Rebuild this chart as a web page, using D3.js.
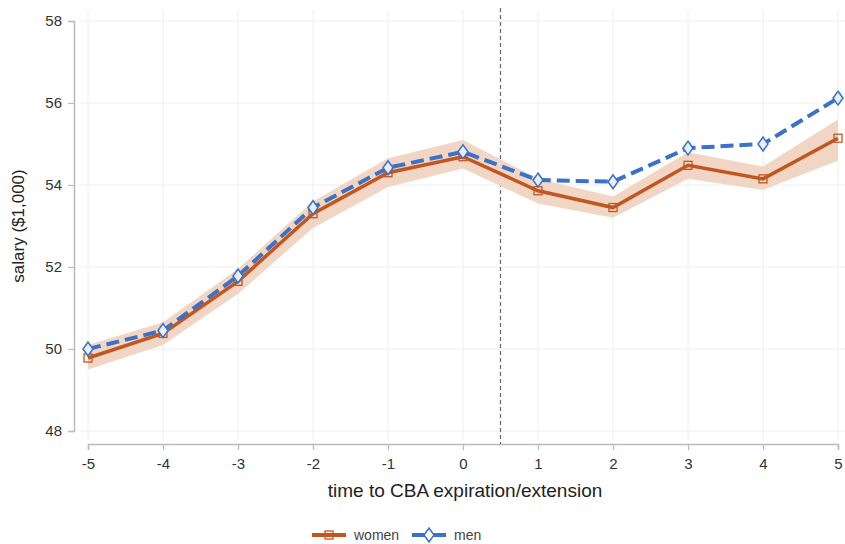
<!DOCTYPE html>
<html>
<head>
<meta charset="utf-8">
<script src="https://cdn.jsdelivr.net/npm/d3@7"></script>
<style>
  body { margin: 0; background: #fff; }
  svg { font-family: "Liberation Sans", Arial, sans-serif; }
</style>
</head>
<body>
<svg id="chart" width="845" height="544"></svg>
<script>
// datos
let years = [-5, -4, -3, -2, -1, 0, 1, 2, 3, 4, 5];
let women = [49.78, 50.38, 51.65, 53.3, 54.3, 54.69, 53.86, 53.45, 54.48, 54.15, 55.14];
let womenLo = [49.5, 50.1, 51.35, 52.95, 53.95, 54.4, 53.55, 53.2, 54.15, 53.88, 54.6];
let womenHi = [50.1, 50.65, 51.95, 53.6, 54.65, 55.1, 54.15, 53.72, 54.8, 54.45, 55.6];
let men = [50.0, 50.45, 51.78, 53.45, 54.42, 54.81, 54.12, 54.08, 54.9, 55.0, 56.12];
let yTicks = [48, 50, 52, 54, 56, 58];

let womenColor = '#c3561f';
let bandColor = '#f1d6c5';
let menColor = '#3b71c6';

let svg = d3.select('#chart');

let x = d3.scaleLinear().domain([-5, 5]).range([88, 838]);
let y = d3.scaleLinear().domain([48, 58]).range([431, 21]);

// rejilla
svg.append('g')
    .selectAll('line')
    .data(years)
    .enter()
    .append('line')
    .attr('x1', d => x(d)).attr('x2', d => x(d))
    .attr('y1', 10).attr('y2', 440)
    .attr('stroke', '#eeeeee').attr('stroke-width', 1);

svg.append('g')
    .selectAll('line')
    .data(yTicks)
    .enter()
    .append('line')
    .attr('x1', 80).attr('x2', 845)
    .attr('y1', d => y(d)).attr('y2', d => y(d))
    .attr('stroke', '#eeeeee').attr('stroke-width', 1);

// ejes
let fmt = d => String(d);
let yAxis = svg.append('g')
    .attr('transform', 'translate(74,0)')
    .call(d3.axisLeft(y).tickValues(yTicks).tickFormat(fmt).tickSize(6).tickPadding(6));
let xAxis = svg.append('g')
    .attr('transform', 'translate(0,444)')
    .call(d3.axisBottom(x).tickValues(years).tickFormat(fmt).tickSize(6).tickPadding(8));

[yAxis, xAxis].forEach(function(ax) {
    ax.select('.domain').attr('stroke', '#bbbbbb').attr('stroke-width', 1.5);
    ax.selectAll('.tick line').attr('stroke', '#bbbbbb').attr('stroke-width', 1.2);
    ax.selectAll('.tick text')
        .attr('font-family', '"Liberation Sans", Arial, sans-serif')
        .attr('font-size', 15)
        .attr('fill', '#333');
});

// línea vertical punteada
svg.append('line')
    .attr('x1', x(0.5)).attr('x2', x(0.5))
    .attr('y1', 8).attr('y2', 444)
    .attr('stroke', '#666').attr('stroke-width', 1.2)
    .attr('stroke-dasharray', '4,3');

// banda de confianza
let area = d3.area()
    .x((d, i) => x(years[i]))
    .y0((d, i) => y(womenLo[i]))
    .y1((d, i) => y(womenHi[i]));

svg.append('path')
    .datum(women)
    .attr('d', area)
    .attr('fill', bandColor);

let line = d3.line()
    .x((d, i) => x(years[i]))
    .y(d => y(d));

svg.append('path')
    .datum(women)
    .attr('d', line)
    .attr('fill', 'none')
    .attr('stroke', womenColor)
    .attr('stroke-width', 3.5);

svg.append('g')
    .selectAll('rect')
    .data(women)
    .enter()
    .append('rect')
    .attr('x', (d, i) => x(years[i]) - 4)
    .attr('y', d => y(d) - 4)
    .attr('width', 8).attr('height', 8)
    .attr('fill', 'none')
    .attr('stroke', womenColor)
    .attr('stroke-width', 1.3);

svg.append('path')
    .datum(men)
    .attr('d', line)
    .attr('fill', 'none')
    .attr('stroke', menColor)
    .attr('stroke-width', 4)
    .attr('stroke-dasharray', '13,6');

let diamond = d3.symbol().type(d3.symbolDiamond).size(55);
svg.append('g')
    .selectAll('path')
    .data(men)
    .enter()
    .append('path')
    .attr('d', diamond)
    .attr('transform', (d, i) => 'translate(' + x(years[i]) + ',' + y(d) + ') scale(1.25,1)')
    .attr('fill', '#e8eefa')
    .attr('stroke', menColor)
    .attr('stroke-width', 1.3);

// títulos
svg.append('text')
    .attr('x', 465).attr('y', 497)
    .attr('text-anchor', 'middle')
    .attr('font-size', 19)
    .attr('fill', '#222')
    .text('time to CBA expiration/extension');

svg.append('text')
    .attr('transform', 'translate(24,226) rotate(-90)')
    .attr('text-anchor', 'middle')
    .attr('font-size', 17)
    .attr('fill', '#222')
    .text('salary ($1,000)');

// leyenda
let legend = svg.append('g').attr('transform', 'translate(0,535)');
legend.append('line')
    .attr('x1', 312).attr('x2', 346).attr('y1', 0).attr('y2', 0)
    .attr('stroke', womenColor).attr('stroke-width', 4);
legend.append('rect')
    .attr('x', 325).attr('y', -4).attr('width', 8).attr('height', 8)
    .attr('fill', 'none').attr('stroke', womenColor).attr('stroke-width', 1.3);
legend.append('text')
    .attr('x', 354).attr('y', 5)
    .attr('font-size', 14).attr('fill', '#444')
    .text('women');

legend.append('line')
    .attr('x1', 412).attr('x2', 446).attr('y1', 0).attr('y2', 0)
    .attr('stroke', menColor).attr('stroke-width', 4);
legend.append('path')
    .attr('d', diamond)
    .attr('transform', 'translate(429,0) scale(1.25,1)')
    .attr('fill', '#fff').attr('stroke', menColor).attr('stroke-width', 1.3);
legend.append('text')
    .attr('x', 454).attr('y', 5)
    .attr('font-size', 14).attr('fill', '#444')
    .text('men');
</script>
</body>
</html>
